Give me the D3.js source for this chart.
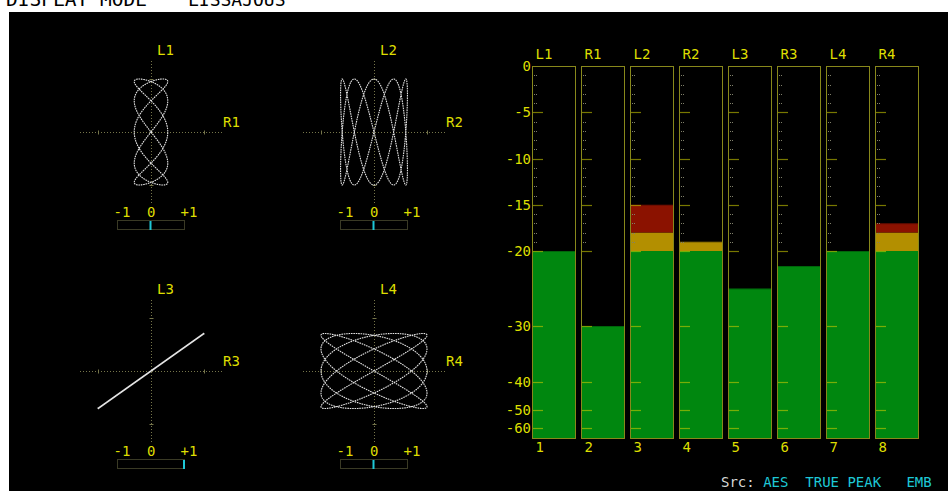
<!DOCTYPE html>
<html>
<head>
<meta charset="utf-8">
<script src="https://cdn.jsdelivr.net/npm/d3@7"></script>
<style>
  html, body { margin: 0; padding: 0; background: #fff; }
  svg { display: block; }
  text { font-family: "DejaVu Sans Mono", monospace; white-space: pre; }
</style>
</head>
<body>
<svg id="chart" width="948" height="491"></svg>
<script>
// ---- Audio channels and their true-peak levels (dBFS) ----
const channels = ["L1", "R1", "L2", "R2", "L3", "R3", "L4", "R4"];
const channelNumbers = ["1", "2", "3", "4", "5", "6", "7", "8"];
const peakLevels = [-20, -30, -15, -19, -25, -22, -20, -17];

// ---- Meter scale ----
const scaleTicks = [0, -5, -10, -15, -20, -30, -40, -50, -60];
const scaleLabels = ["0", "-5", "-10", "-15", "-20", "-30", "-40", "-50", "-60"];
const scaleBreaks = [0, -20, -30, -40, -50, -60, -70];
const minorTicks = [-1, -2, -3, -4, -6, -7, -8, -9, -11, -12, -13, -14, -16, -17, -18, -19];
const zoneLimits = [-70, -20, -18, 0];
const zoneColors = ["#00870f", "#b38f00", "#8b1200"];

// ---- Lissajous pairs (vertical = L, horizontal = R) ----
const pairs = [["L1", "R1"], ["L2", "R2"], ["L3", "R3"], ["L4", "R4"]];
const cyclesL = [2, 5, 1, 4];
const cyclesR = [5, 2, 1, 5];
const phaseL = [0, 0, 0, 0];
const phaseR = [0, 0, 0, 0];
const correlation = [0, 0, 1, 0];
const correlationTicks = [-1, 0, 1];
const correlationLabels = ["-1", "0", "+1"];

const YELLOW = "#dede00";
const AXIS = "#75754a";

const svg = d3.select("#chart");

// header strip above the display
svg.append("text").attr("x", 6).attr("y", 5.5).attr("font-size", 19.5)
  .attr("fill", "#000").text("DISPLAY MODE");
svg.append("text").attr("x", 188).attr("y", 5.5).attr("font-size", 18)
  .attr("fill", "#000").text("LISSAJOUS");

// display area
svg.append("rect").attr("x", 9).attr("y", 12).attr("width", 939).attr("height", 479)
  .attr("fill", "#000");

// ================= Lissajous panels =================
const cellCX = [151, 374];
const cellCY = [132, 371];
const UNIT = 53;   // full-scale radius
const AXLEN = 71;  // axis half length
const deg = Math.PI / 180;
const samples = d3.range(0, 2881).map(k => k / 2880 * 2 * Math.PI);

pairs.forEach((pair, i) => {
  const cx = cellCX[i % 2];
  const cy = cellCY[Math.floor(i / 2)];
  const xs = d3.scaleLinear().domain([-1, 1]).range([cx - UNIT, cx + UNIT]);
  const ys = d3.scaleLinear().domain([-1, 1]).range([cy + UNIT, cy - UNIT]);
  const g = svg.append("g");

  // dotted cross-hair axes
  g.append("line").attr("x1", cx - AXLEN).attr("x2", cx + AXLEN)
    .attr("y1", cy + 0.5).attr("y2", cy + 0.5)
    .attr("stroke", AXIS).attr("stroke-dasharray", "1,2");
  g.append("line").attr("y1", cy - AXLEN).attr("y2", cy + AXLEN)
    .attr("x1", cx + 0.5).attr("x2", cx + 0.5)
    .attr("stroke", AXIS).attr("stroke-dasharray", "1,2");
  [-1, 1].forEach(v => {
    g.append("line").attr("x1", xs(v) + 0.5).attr("x2", xs(v) + 0.5)
      .attr("y1", cy - 1.5).attr("y2", cy + 2.5).attr("stroke", AXIS);
    g.append("line").attr("y1", ys(v) + 0.5).attr("y2", ys(v) + 0.5)
      .attr("x1", cx - 1.5).attr("x2", cx + 2.5).attr("stroke", AXIS);
  });

  // channel labels
  g.append("text").attr("x", cx + 6).attr("y", cy - 77).attr("font-size", 14)
    .attr("fill", YELLOW).text(pair[0]);
  g.append("text").attr("x", cx + 72).attr("y", cy - 5).attr("font-size", 14)
    .attr("fill", YELLOW).text(pair[1]);

  // X-Y trace, gain normalised to the louder channel
  const lv = peakLevels[channels.indexOf(pair[0])];
  const rv = peakLevels[channels.indexOf(pair[1])];
  const ref = Math.max(lv, rv);
  const ampL = Math.pow(10, (lv - ref) / 20);
  const ampR = Math.pow(10, (rv - ref) / 20);
  const trace = d3.line()
    .x(t => xs(ampR * Math.sin(cyclesR[i] * t + phaseR[i] * deg)))
    .y(t => ys(ampL * Math.sin(cyclesL[i] * t + phaseL[i] * deg)));
  g.append("path").attr("d", trace(samples)).attr("fill", "none")
    .attr("stroke", "#e4e4e4").attr("stroke-width", i === 2 ? 1.7 : 1.1)
    .attr("stroke-dasharray", i === 2 ? null : "1.6,0.8");

  // correlation meter
  const cs = d3.scaleLinear().domain([-1, 1]).range([cx - 34, cx + 33]);
  g.selectAll("text.ct").data(correlationTicks).join("text").attr("class", "ct")
    .attr("x", d => cs(d) - 3.5).attr("y", cy + 85).attr("font-size", 14)
    .attr("fill", YELLOW).text((d, k) => correlationLabels[k]);
  g.append("rect").attr("x", cs(-1) + 0.5).attr("y", cy + 88.5)
    .attr("width", cs(1) - cs(-1)).attr("height", 9)
    .attr("fill", "none").attr("stroke", AXIS).attr("stroke-dasharray", "1,1");
  g.append("rect").attr("x", cs(correlation[i]) - 1).attr("y", cy + 89)
    .attr("width", 2).attr("height", 9).attr("fill", "#1ec8d6");
});

// ================= Level meters =================
const x = d3.scaleBand().domain(channels).range([532, 918]).paddingInner(6 / 49).paddingOuter(0);
const y = d3.scaleLinear().domain(scaleBreaks).range([66, 251, 326, 382, 410, 428, 438]);
const bw = x.bandwidth();
const meters = svg.append("g");

// coloured level bars, split into zones
channels.forEach((ch, i) => {
  const level = peakLevels[i];
  for (let z = 0; z < zoneColors.length; z++) {
    const lo = zoneLimits[z], hi = Math.min(level, zoneLimits[z + 1]);
    if (hi <= lo) continue;
    meters.append("rect").attr("x", x(ch) + 1).attr("width", bw - 1)
      .attr("y", y(hi)).attr("height", y(lo) - y(hi)).attr("fill", zoneColors[z]);
  }
  meters.append("line").attr("x1", x(ch) + 1).attr("x2", x(ch) + bw)
    .attr("y1", y(level) + 0.5).attr("y2", y(level) + 0.5)
    .attr("stroke", "#000").attr("stroke-opacity", 0.25);
});

// minor (1 dB, down to -20) and major ticks
channels.forEach(ch => {
  meters.selectAll(null).data(minorTicks).join("line")
    .attr("x1", x(ch) + 2).attr("x2", x(ch) + 6)
    .attr("y1", d => Math.round(y(d)) + 0.5).attr("y2", d => Math.round(y(d)) + 0.5)
    .attr("stroke", "#80806a").attr("stroke-dasharray", "1,1");
  meters.selectAll(null).data(scaleTicks.slice(1)).join("line")
    .attr("x1", x(ch) + 1).attr("x2", x(ch) + 11)
    .attr("y1", d => Math.round(y(d)) + 0.5).attr("y2", d => Math.round(y(d)) + 0.5)
    .attr("stroke", "#c8c800").attr("stroke-opacity", 0.6).attr("stroke-width", 1.2);
});

// frames
meters.selectAll("rect.frame").data(channels).join("rect").attr("class", "frame")
  .attr("x", d => x(d) + 0.5).attr("y", y(0) + 0.5)
  .attr("width", bw).attr("height", y(-70) - y(0))
  .attr("fill", "none").attr("stroke", "#c8c828").attr("stroke-opacity", 0.68);

// scale labels
meters.selectAll("text.sl").data(scaleTicks).join("text").attr("class", "sl")
  .attr("x", 531).attr("y", d => y(d)).attr("dy", "0.36em")
  .attr("text-anchor", "end").attr("font-size", 14).attr("fill", YELLOW)
  .text((d, k) => scaleLabels[k]);

// channel names and numbers
meters.selectAll("text.cn").data(channels).join("text").attr("class", "cn")
  .attr("x", d => x(d) + 3.5).attr("y", 59).attr("font-size", 14)
  .attr("fill", YELLOW).text(d => d);
meters.selectAll("text.num").data(channels).join("text").attr("class", "num")
  .attr("x", d => x(d) + 3.5).attr("y", 452).attr("font-size", 14)
  .attr("fill", YELLOW).text((d, k) => channelNumbers[k]);

// source / mode status line
const status = svg.append("text").attr("x", 721).attr("y", 487).attr("font-size", 14);
status.append("tspan").attr("fill", "#d8d8d8").text("Src: ");
status.append("tspan").attr("fill", "#1ec8d6").text("AES  TRUE PEAK   EMB");
</script>
</body>
</html>
